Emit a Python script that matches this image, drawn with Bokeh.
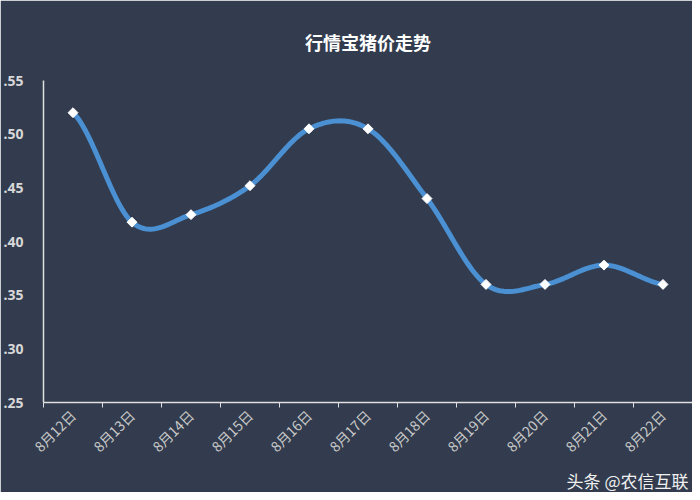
import numpy as np
from bokeh.plotting import figure
from bokeh.models import FixedTicker, CustomJSTickFormatter, Range1d, Title
from bokeh.embed import file_html
from bokeh.resources import INLINE

categories = ["8月12日", "8月13日", "8月14日", "8月15日", "8月16日", "8月17日",
              "8月18日", "8月19日", "8月20日", "8月21日", "8月22日"]
prices = [0.52, 0.418, 0.425, 0.452, 0.505, 0.505, 0.44, 0.36, 0.36, 0.378, 0.36]
y_ticks = [0.25, 0.30, 0.35, 0.40, 0.45, 0.50, 0.55]

BG = "#323c4e"

x = np.arange(len(categories), dtype=float)
y = np.array(prices)

# smooth (Catmull-Rom) rendering of the line through the data points
xs, ys = [], []
n = len(x)
for i in range(n - 1):
    p0 = y[max(i - 1, 0)]
    p1 = y[i]
    p2 = y[i + 1]
    p3 = y[min(i + 2, n - 1)]
    m1 = (p2 - p0) / 2.0
    m2 = (p3 - p1) / 2.0
    t = np.linspace(0, 1, 30, endpoint=(i == n - 2))
    h00 = 2 * t**3 - 3 * t**2 + 1
    h10 = t**3 - 2 * t**2 + t
    h01 = -2 * t**3 + 3 * t**2
    h11 = t**3 - t**2
    xs.extend(list(x[i] + t))
    ys.extend(list(h00 * p1 + h10 * m1 + h01 * p2 + h11 * m2))

p = figure(width=692, height=492, output_backend="svg", toolbar_location=None,
           x_range=Range1d(-0.5, n - 0.5), y_range=Range1d(0.25, 0.55),
           min_border_left=43, min_border_right=0, min_border_top=80,
           min_border_bottom=84)
p.background_fill_color = BG
p.border_fill_color = BG
p.outline_line_color = BG
p.outline_line_width = 2
p.grid.visible = False

p.title.text = "行情宝猪价走势"
p.title.align = "center"
p.title.text_color = "#ffffff"
p.title.text_font = "Noto Sans CJK SC"
p.title.text_font_size = "18px"
p.title.text_font_style = "bold"
p.title.offset = 0
p.title.standoff = 52

p.line(xs, ys, line_color="#4a90d2", line_width=5)
p.scatter(x, y, marker="square", size=7, angle=np.pi / 4,
          fill_color="#ffffff", line_color="#ffffff")

labels_js = str(categories)
p.xaxis.ticker = FixedTicker(ticks=list(x), minor_ticks=list(np.arange(-0.5, n, 1.0)))
p.xaxis.formatter = CustomJSTickFormatter(
    code=f"const c = {labels_js}; return c[Math.round(tick)] || '';")
p.xaxis.major_label_orientation = np.pi / 4
p.xaxis.major_tick_line_color = None
p.xaxis.minor_tick_line_color = "#e0e0e0"
p.xaxis.minor_tick_in = 0
p.xaxis.minor_tick_out = 5
p.xaxis.axis_line_color = "#e0e0e0"
p.xaxis.axis_line_width = 1.5
p.xaxis.major_label_text_color = "#c8c8c8"
p.xaxis.major_label_text_font = "Noto Sans CJK SC"
p.xaxis.major_label_text_font_size = "14px"
p.xaxis.major_label_standoff = 4

p.yaxis.ticker = FixedTicker(ticks=y_ticks)
p.yaxis.formatter = CustomJSTickFormatter(
    code="return tick.toFixed(2).replace(/^0/, '');")
p.yaxis.major_tick_line_color = None
p.yaxis.minor_tick_line_color = None
p.yaxis.axis_line_color = "#e0e0e0"
p.yaxis.axis_line_width = 1.5
p.yaxis.major_label_text_color = "#d8d8d8"
p.yaxis.major_label_text_font = "Noto Sans"
p.yaxis.major_label_text_font_size = "14px"
p.yaxis.major_label_text_font_style = "bold"
p.yaxis.major_label_standoff = 14

wm = Title(text="头条 @农信互联", align="right", text_color="#f0f0f0",
           text_font="Noto Sans CJK SC", text_font_size="17px",
           text_font_style="normal", offset=4, standoff=0)
p.add_layout(wm, "below")

open("out.html", "w").write(file_html(p, INLINE))
